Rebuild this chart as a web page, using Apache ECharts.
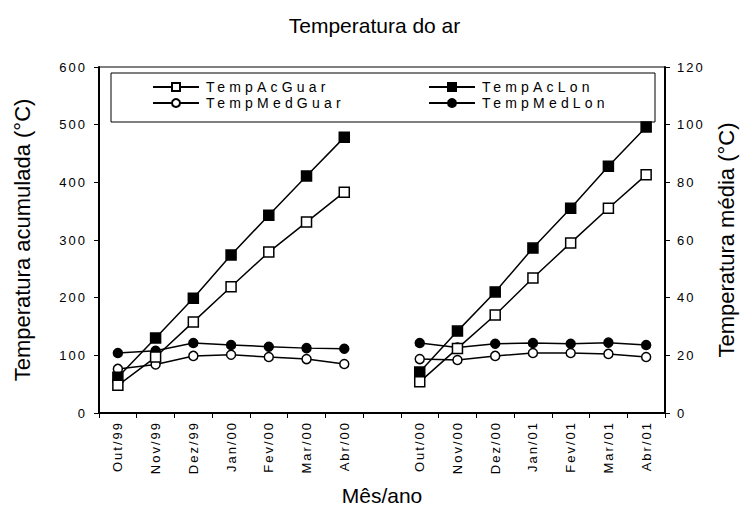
<!DOCTYPE html>
<html>
<head>
<meta charset="utf-8">
<script src="https://cdn.jsdelivr.net/npm/echarts@6/dist/echarts.min.js"></script>
<style>
html,body{margin:0;padding:0;background:#fff;}
#c{width:749px;height:518px;}
text[style*="Helvetica"]{letter-spacing:2px;}
text[style*="Nimbus"]{letter-spacing:4.2px;}
</style>
</head>
<body>
<div id="c"></div>
<script>
const categories = ['Out/99','Nov/99','Dez/99','Jan/00','Fev/00','Mar/00','Abr/00','','Out/00','Nov/00','Dez/00','Jan/01','Fev/01','Mar/01','Abr/01'];
const tempAcGuar = [48, 97, 158, 219, 279, 331, 383, '-', 54, 112, 170, 234, 295, 355, 413];
const tempAcLon = [62, 130, 199, 274, 343, 411, 478, '-', 71, 142, 210, 286, 355, 428, 496];
const tempMedGuar = [15.3, 16.8, 19.8, 20.2, 19.4, 18.7, 17.0, '-', 18.7, 18.4, 19.8, 20.8, 20.8, 20.5, 19.4];
const tempMedLon = [20.8, 21.6, 24.3, 23.6, 23.0, 22.5, 22.3, '-', 24.3, 22.7, 24.0, 24.3, 24.0, 24.4, 23.6];

const NORMAL = 'Liberation Sans, Arial';
const SPACED = 'Liberation Sans, Helvetica';
const LEG = 'Liberation Sans, Nimbus Sans';

const chart = echarts.init(document.getElementById('c'), null, {renderer: 'svg'});

function legendAt(name, left, top) {
  return {
    data: [name], left: left, top: top, padding: 0,
    itemWidth: 46, itemHeight: 10, itemGap: 0,
    textStyle: {fontFamily: LEG, fontSize: 14, color: '#000', padding: [0,0,0,2]},
    selectedMode: false
  };
}

function lineSeries(name, data, yAxisIndex, symbol, filled, size) {
  return {
    name: name, type: 'line', data: data, yAxisIndex: yAxisIndex,
    symbol: symbol, symbolSize: size, connectNulls: false,
    lineStyle: {color: '#000', width: 1.5},
    itemStyle: {color: filled ? '#000' : '#fff', borderColor: '#000', borderWidth: 1.5},
    emphasis: {disabled: true},
    animation: false
  };
}

const option = {
  animation: false,
  title: {
    text: 'Temperatura do ar', left: 'center', top: 10,
    textStyle: {fontFamily: NORMAL, fontSize: 21, fontWeight: 'normal', color: '#000'}
  },
  graphic: [{
    type: 'rect', shape: {x: 111, y: 73, width: 544, height: 49},
    style: {fill: 'none', stroke: '#000', lineWidth: 1}, silent: true, z: 10
  }],
  legend: [
    legendAt('TempAcGuar', 152, 80),
    legendAt('TempMedGuar', 152, 96),
    legendAt('TempAcLon', 428, 80),
    legendAt('TempMedLon', 428, 96)
  ],
  grid: {left: 99, right: 84, top: 67, bottom: 105, show: true, borderColor: '#000', borderWidth: 1, backgroundColor: 'transparent'},
  xAxis: {
    type: 'category', data: categories, boundaryGap: true,
    axisLine: {lineStyle: {color: '#000', width: 2}},
    axisTick: {show: true, interval: 0, length: 5, lineStyle: {color: '#000'}},
    axisLabel: {interval: 0, rotate: 90, margin: 8, fontFamily: SPACED, fontSize: 13, color: '#000'},
    name: 'Mês/ano', nameLocation: 'middle', nameGap: 72,
    nameTextStyle: {fontFamily: NORMAL, fontSize: 21, color: '#000'}
  },
  yAxis: [{
    type: 'value', min: 0, max: 600, interval: 100, position: 'left',
    axisLine: {show: true, lineStyle: {color: '#000', width: 2}},
    axisTick: {show: true, length: 5, lineStyle: {color: '#000'}},
    axisLabel: {margin: 12, fontFamily: SPACED, fontSize: 13, color: '#000'},
    splitLine: {show: false},
    name: 'Temperatura acumulada (°C)', nameLocation: 'middle', nameGap: 66, nameRotate: 90,
    nameTextStyle: {fontFamily: NORMAL, fontSize: 22, color: '#000'}
  }, {
    type: 'value', min: 0, max: 120, interval: 20, position: 'right',
    axisLine: {show: true, lineStyle: {color: '#000', width: 2}},
    axisTick: {show: true, length: 5, lineStyle: {color: '#000'}},
    axisLabel: {margin: 12, fontFamily: SPACED, fontSize: 13, color: '#000'},
    splitLine: {show: false},
    name: 'Temperatura média (°C)', nameLocation: 'middle', nameGap: 50, nameRotate: 90,
    nameTextStyle: {fontFamily: NORMAL, fontSize: 22, color: '#000'}
  }],
  series: [
    lineSeries('TempMedLon', tempMedLon, 1, 'circle', true, 9),
    lineSeries('TempMedGuar', tempMedGuar, 1, 'circle', false, 9),
    lineSeries('TempAcLon', tempAcLon, 0, 'rect', true, 10),
    lineSeries('TempAcGuar', tempAcGuar, 0, 'rect', false, 10)
  ]
};
chart.setOption(option);
</script>
</body>
</html>
